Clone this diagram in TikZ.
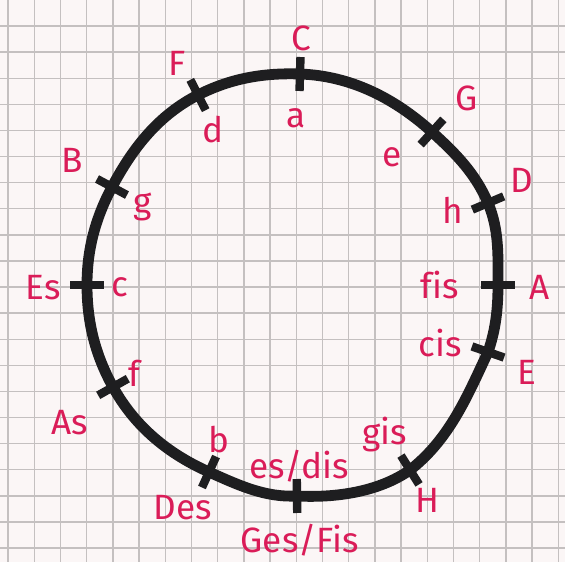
\documentclass[tikz,border=0pt]{standalone}
\usepackage{fontspec}
\setmainfont{Fira Sans}[Ligatures=NoCommon]
\usetikzlibrary{calc}
\definecolor{paper}{RGB}{251,246,246}
\definecolor{gridline}{RGB}{196,192,192}
\definecolor{ink}{RGB}{218,28,88}
\definecolor{marker}{RGB}{30,30,32}
\begin{document}
\begin{tikzpicture}[
	x=0.25mm, y=-0.25mm,
	ring/.style={ marker, line width=2.7mm, line join=round, line cap=round, looseness=0.9 },
	tick/.style={ marker, line width=2.1mm },
	dur/.style={ text=ink, inner sep=0pt, font=\fontsize{25}{27}\selectfont },
	moll/.style={ text=ink, inner sep=0pt, font=\fontsize{25}{27}\selectfont }
]

% paper
\fill[paper] (0,0) rectangle (565,562);
\useasboundingbox (0,0) rectangle (565,562);
\foreach \i in {0,...,21} \draw[gridline, line width=0.35mm] (8+26.2*\i,0) -- (8+26.2*\i,562);
\foreach \i in {0,...,20} \draw[gridline, line width=0.35mm] (0,26+26.1*\i) -- (565,26+26.1*\i);

% circle of fifths
\coordinate (O) at (294,285);
\coordinate (tC) at (300,74);
\coordinate (tG) at (432,132);
\coordinate (tD) at (488,203);
\coordinate (tA) at (498,285);
\coordinate (tE) at (488,352);
\coordinate (tH) at (410,470);
\coordinate (tFis) at (297,496);
\coordinate (tDes) at (209,472);
\coordinate (tAs) at (113,387);
\coordinate (tEs) at (87,285);
\coordinate (tB) at (112,187);
\coordinate (tF) at (198,95);

\draw[ring] (tC) to[out=-2,in=138] (tG) to[out=-42,in=113] (tD)
	to[out=-67,in=90] (tA) to[out=-90,in=71] (tE) to[out=-115,in=38] (tH)
	to[out=-145,in=-3,looseness=0.85] (tFis) to[out=-177,in=-24] (tDes)
	to[out=156,in=-61] (tAs) to[out=119,in=-90] (tEs) to[out=90,in=-118] (tB)
	to[out=62,in=-153] (tF) to[out=27,in=178] (tC) -- cycle;
\foreach \k in {C,G,D,A,E,H,Fis,Des,As,Es,B,F}
	\draw[tick] ($(t\k)!4.25mm!(O)$) -- ($(t\k)!-4.25mm!(O)$);

% major keys
\node at (301,38) (nC) [dur] {C};
\node at (467,98) (nG) [dur] {G};
\node at (522,180) (nD) [dur] {D};
\node at (540,287) (nA) [dur] {A};
\node at (527,372) (nE) [dur] {E};
\node at (427,500) (nH) [dur] {H};
\node at (300,540) (nFis) [dur] {Ges/Fis};
\node at (183,508) (nDes) [dur] {Des};
\node at (70,423) (nAs) [dur] {As};
\node at (43,288) (nEs) [dur] {Es};
\node at (72,160) (nB) [dur] {B};
\node at (177,63) (nF) [dur] {F};

% minor keys
\node at (296,118) (ma) [moll] {a};
\node at (392,157) (me) [moll] {e};
\node at (453,210) (mh) [moll] {h};
\node at (440,285) (mfis) [moll] {fis};
\node at (440,343) (mcis) [moll] {cis};
\node at (385,435) (mgis) [moll] {gis};
\node at (299,466) (mdis) [moll] {es/dis};
\node at (219,440) (mb) [moll] {b};
\node at (134,373) (mf) [moll] {f};
\node at (120,287) (mc) [moll] {c};
\node at (143,207) (mg) [moll] {g};
\node at (213,130) (md) [moll] {d};

\end{tikzpicture}
\end{document}
